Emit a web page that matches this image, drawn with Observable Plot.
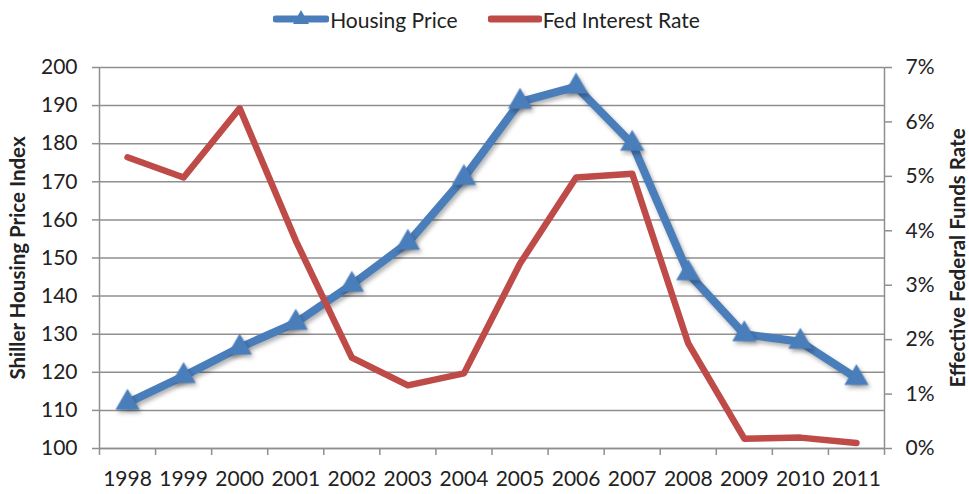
<!DOCTYPE html>
<html>
<head>
<meta charset="utf-8">
<script src="https://cdn.jsdelivr.net/npm/d3@7"></script>
<script src="https://cdn.jsdelivr.net/npm/@observablehq/plot@0.6"></script>
<style>
  html, body { margin: 0; padding: 0; background: #fff; }
  #wrap { width: 969px; height: 494px; overflow: hidden; font-family: Lato, "Liberation Sans", sans-serif; color: #222; }
  #legend { height: 38px; display: flex; align-items: center; justify-content: center; font-size: 21px; padding-left: 4px; box-sizing: border-box; }
  .item { display: flex; align-items: center; margin: 0 15px; }
  .item svg { margin-right: 1px; }
</style>
</head>
<body>
<div id="wrap">
  <div id="legend"></div>
  <div id="chart"></div>
</div>
<script>
// ---- data ----
const years = [1998, 1999, 2000, 2001, 2002, 2003, 2004, 2005, 2006, 2007, 2008, 2009, 2010, 2011];
const housingPrice = [112, 119, 126.5, 133, 143, 154, 171, 191, 195, 180, 146, 130, 128, 118.5];
const fedRate = [5.35, 4.98, 6.25, 3.82, 1.67, 1.16, 1.38, 3.4, 4.98, 5.05, 1.93, 0.18, 0.2, 0.1];
const leftTicks = [100, 110, 120, 130, 140, 150, 160, 170, 180, 190, 200];
const rightTicks = [0, 1, 2, 3, 4, 5, 6, 7];
const rightTickLabels = ["0%", "1%", "2%", "3%", "4%", "5%", "6%", "7%"];
const seriesNames = ["Housing Price", "Fed Interest Rate"];
const axisTitles = ["Shiller Housing Price Index", "Effective Federal Funds Rate"];

const blue = "#4a7ebb";
const red = "#be4b48";
const gridColor = "#8f8f8f";

// map the secondary (rate) axis onto the primary scale
const leftMin = 100, leftMax = 200, rightMax = 7;
const rateToY = r => leftMin + r * (leftMax - leftMin) / rightMax;

const housing = years.map((y, i) => ({year: y, value: housingPrice[i]}));
const rate = years.map((y, i) => ({year: y, value: rateToY(fedRate[i])}));
const boundaries = [years[0] - 0.5, ...years.map(y => y + 0.5)];

// ---- legend ----
const legend = document.getElementById("legend");
legend.innerHTML = `
  <div class="item">
    <svg width="56" height="22"><line x1="3" x2="53" y1="11" y2="11" stroke="${blue}" stroke-width="7" stroke-linecap="round"/>
      <path d="M28,2 L36,16 L20,16 Z" fill="${blue}"/></svg>
    <span>${seriesNames[0]}</span>
  </div>
  <div class="item">
    <svg width="54" height="22"><line x1="3" x2="51" y1="11" y2="11" stroke="${red}" stroke-width="7" stroke-linecap="round"/></svg>
    <span>${seriesNames[1]}</span>
  </div>`;

// ---- chart ----
const chart = Plot.plot({
  width: 969,
  height: 456,
  marginTop: 29,
  marginBottom: 46,
  marginLeft: 99,
  marginRight: 85,
  style: {fontFamily: "Lato, 'Liberation Sans', sans-serif", fontSize: "21px", color: "#222", background: "white"},
  x: {type: "linear", domain: [boundaries[0], boundaries[boundaries.length - 1]]},
  y: {domain: [leftMin, leftMax]},
  marks: [
    Plot.gridY(leftTicks, {stroke: gridColor, strokeOpacity: 1, strokeWidth: 1.5}),
    Plot.ruleX([boundaries[0], boundaries[boundaries.length - 1]], {stroke: gridColor, strokeWidth: 1.5}),
    Plot.ruleY([leftMin], {stroke: gridColor, strokeWidth: 1.5}),
    Plot.axisY(leftTicks, {anchor: "left", tickSize: 7, tickPadding: 15, stroke: gridColor, strokeWidth: 1.5, label: null, tickFormat: d => String(d), fill: "#222"}),
    Plot.axisY(rightTicks.map(rateToY), {anchor: "right", tickSize: 7, tickPadding: 14, stroke: gridColor, strokeWidth: 1.5, label: null, tickFormat: (d, i) => rightTickLabels[i], fill: "#222"}),
    Plot.axisX(boundaries, {anchor: "bottom", tickSize: 7, stroke: gridColor, strokeWidth: 1.5, tickFormat: () => "", label: null}),
    Plot.axisX(years, {anchor: "bottom", tickSize: 0, tickPadding: 23, tickFormat: d => String(d), label: null, fill: "#222"}),
    Plot.text([axisTitles[0]], {frameAnchor: "left", dx: -81, rotate: -90, textAnchor: "middle", fontWeight: "bold", fontSize: 20.5, fill: "#222"}),
    Plot.text([axisTitles[1]], {frameAnchor: "right", dx: 74, rotate: -90, textAnchor: "middle", fontWeight: "bold", fontSize: 20.5, fill: "#222"}),
    Plot.line(housing, {x: "year", y: "value", stroke: blue, strokeWidth: 8, strokeLinejoin: "round", strokeLinecap: "round", className: "housing"}),
    Plot.dot(housing, {x: "year", y: "value", symbol: "triangle", r: 9, fill: blue, stroke: "none", className: "housing"}),
    Plot.line(rate, {x: "year", y: "value", stroke: red, strokeWidth: 6.5, strokeLinejoin: "round", strokeLinecap: "round"})
  ]
});
chart.querySelectorAll(".housing").forEach(g => g.style.filter = "drop-shadow(2px 3px 2px rgba(0,0,0,0.3))");
document.getElementById("chart").appendChild(chart);
</script>
</body>
</html>
